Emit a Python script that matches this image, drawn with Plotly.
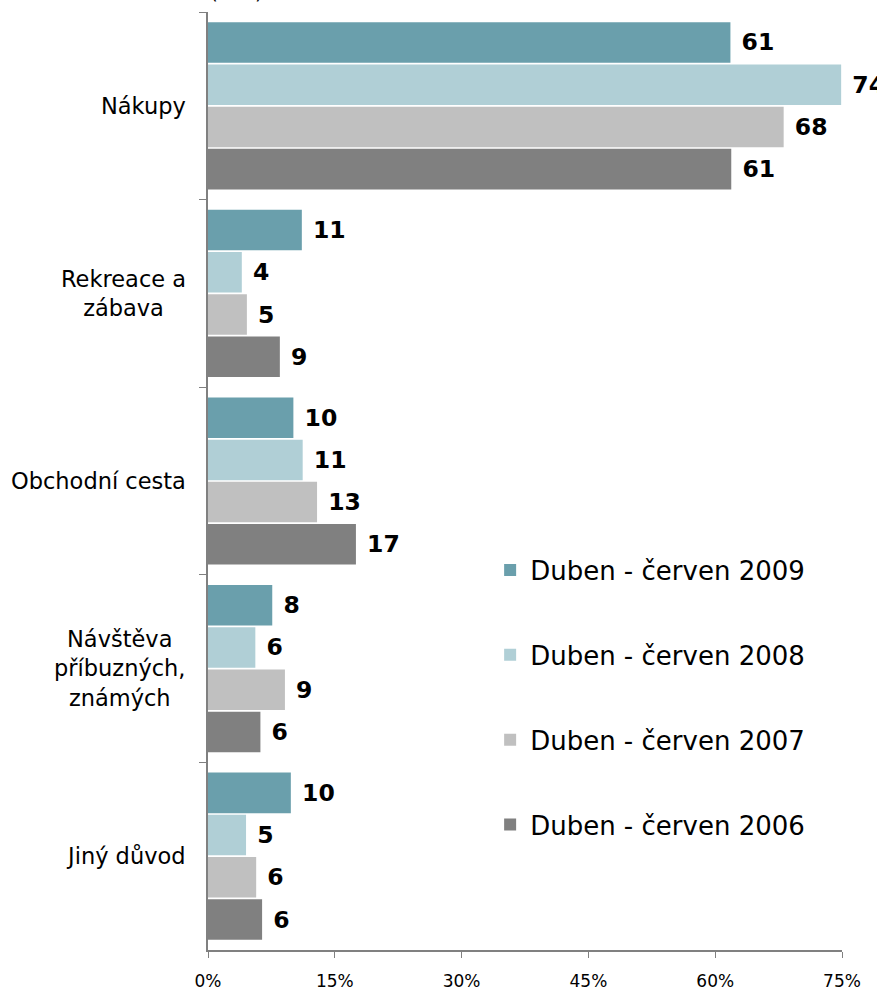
import plotly.graph_objects as go

categories = ["Nákupy", "Rekreace a<br>zábava", "Obchodní cesta",
              "Návštěva<br>příbuzných,<br>známých", "Jiný důvod"]
series_names = ["Duben - červen 2009", "Duben - červen 2008",
                "Duben - červen 2007", "Duben - červen 2006"]
values_2009 = [61.8, 11.1, 10.1, 7.6, 9.8]
values_2008 = [74.9, 4.0, 11.2, 5.6, 4.5]
values_2007 = [68.1, 4.6, 12.9, 9.1, 5.7]
values_2006 = [61.9, 8.5, 17.5, 6.2, 6.4]
labels_2009 = [61, 11, 10, 8, 10]
labels_2008 = [74, 4, 11, 6, 5]
labels_2007 = [68, 5, 13, 9, 6]
labels_2006 = [61, 9, 17, 6, 6]
tick_vals = [0, 15, 30, 45, 60, 75]
tick_text = ["0%", "15%", "30%", "45%", "60%", "75%"]

colors = ["#6A9FAC", "#B0CFD6", "#C0C0C0", "#808080"]
all_values = [values_2009, values_2008, values_2007, values_2006]
all_labels = [labels_2009, labels_2008, labels_2007, labels_2006]

fig = go.Figure()
for i, (name, vals, labs, col) in enumerate(zip(series_names, all_values, all_labels, colors)):
    fig.add_trace(go.Bar(
        y=categories, x=vals, name=name, orientation="h",
        marker=dict(color=col, line=dict(width=0)),
        text=[f" {l}" for l in labs], textposition="outside",
        textfont=dict(family="DejaVu Sans", size=23.5, color="black", weight="bold"),
        cliponaxis=False, legendgroup=f"g{i}",
    ))

fig.update_layout(
    width=877, height=991,
    margin=dict(l=208, r=35, t=12, b=41, autoexpand=False),
    paper_bgcolor="white", plot_bgcolor="white",
    barmode="group", bargap=0.1, bargroupgap=0.04,
    font=dict(family="DejaVu Sans", size=18, color="black"),
    legend=dict(x=0.445, y=0.43, xanchor="left", yanchor="top",
                font=dict(size=26, family="DejaVu Sans"),
                tracegroupgap=48, traceorder="grouped",
                bgcolor="rgba(0,0,0,0)"),
    showlegend=True,
)
fig.update_xaxes(range=[0, 75], tickvals=tick_vals, ticktext=tick_text,
                 showgrid=False, zeroline=False, showline=True,
                 linecolor="#808080", linewidth=2, ticks="outside",
                 ticklen=6, tickcolor="#808080", ticklabelstandoff=9,
                 tickfont=dict(size=17), fixedrange=True, automargin=False)
fig.update_yaxes(autorange="reversed", showgrid=False, showline=True,
                 linecolor="#808080", linewidth=2, ticks="outside",
                 tickson="boundaries", ticklen=7, tickcolor="#808080",
                 showticklabels=False, automargin=False)
for cat in categories:
    fig.add_annotation(text=cat, xref="paper", yref="y", x=0, y=cat,
                       xanchor="right", yanchor="middle", xshift=-20,
                       align="center", showarrow=False,
                       font=dict(size=22.5, family="DejaVu Sans"))
fig.add_annotation(text="(v %)", xref="paper", yref="paper", x=0, y=1,
                   xanchor="left", yanchor="bottom", yshift=6, showarrow=False,
                   font=dict(size=20, family="DejaVu Sans"))

fig.write_html("out.html", config={"displayModeBar": False},
               post_script="document.body.style.margin='0';")
